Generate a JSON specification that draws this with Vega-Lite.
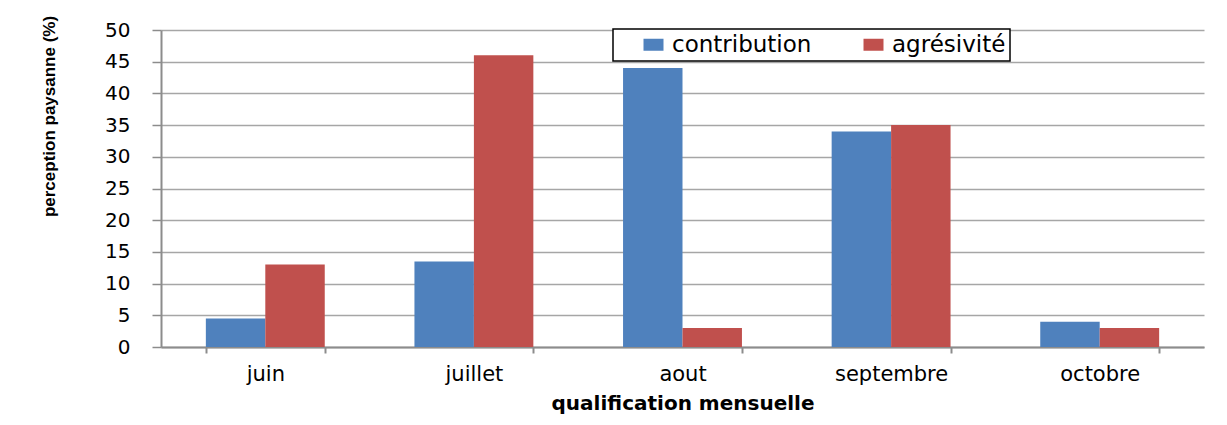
{
  "$schema": "https://vega.github.io/schema/vega-lite/v6.json",
  "width": 1043,
  "height": 317,
  "autosize": "none",
  "padding": {"left": 161, "top": 30, "right": 23, "bottom": 78},
  "background": "white",
  "config": {
    "view": {"stroke": null},
    "font": "DejaVu Sans",
    "legend": {"strokeWidth": 1.5}
  },
  "data": {
    "values": [
      {"mois": "juin", "serie": "contribution", "valeur": 4.5},
      {"mois": "juin", "serie": "agrésivité", "valeur": 13},
      {"mois": "juillet", "serie": "contribution", "valeur": 13.5},
      {"mois": "juillet", "serie": "agrésivité", "valeur": 46},
      {"mois": "aout", "serie": "contribution", "valeur": 44},
      {"mois": "aout", "serie": "agrésivité", "valeur": 3},
      {"mois": "septembre", "serie": "contribution", "valeur": 34},
      {"mois": "septembre", "serie": "agrésivité", "valeur": 35},
      {"mois": "octobre", "serie": "contribution", "valeur": 4},
      {"mois": "octobre", "serie": "agrésivité", "valeur": 3}
    ]
  },
  "mark": {"type": "bar"},
  "encoding": {
    "x": {
      "field": "mois",
      "type": "nominal",
      "sort": ["juin", "juillet", "aout", "septembre", "octobre"],
      "scale": {"paddingInner": 0.43, "paddingOuter": 0.215},
      "title": "qualification mensuelle",
      "axis": {
        "labelAngle": 0,
        "labelFontSize": 21,
        "labelColor": "#000000",
        "labelPadding": 10,
        "tickBand": "extent",
        "ticks": true,
        "tickSize": 6,
        "tickColor": "#8C8C8C",
        "tickWidth": 2,
        "domainColor": "#8C8C8C",
        "domainWidth": 2,
        "titleFont": "DejaVu Sans",
        "titleFontWeight": "bold",
        "titleFontSize": 20,
        "titleColor": "#000000",
        "titleBaseline": "middle",
        "titleY": 56
      }
    },
    "xOffset": {
      "field": "serie",
      "type": "nominal",
      "sort": ["contribution", "agrésivité"],
      "scale": {"paddingInner": 0, "paddingOuter": 0}
    },
    "y": {
      "field": "valeur",
      "type": "quantitative",
      "scale": {"domain": [0, 50], "nice": false},
      "title": "perception paysanne (%)",
      "axis": {
        "values": [0, 5, 10, 15, 20, 25, 30, 35, 40, 45, 50],
        "grid": true,
        "gridColor": "#A6A6A6",
        "gridWidth": 1.5,
        "domainColor": "#8C8C8C",
        "domainWidth": 2,
        "tickColor": "#8C8C8C",
        "tickWidth": 1.5,
        "tickSize": 9,
        "labelFontSize": 20,
        "labelColor": "#000000",
        "labelPadding": 22,
        "titleFont": "Liberation Sans",
        "titleFontWeight": "bold",
        "titleFontSize": 17,
        "titleColor": "#000000",
        "titleAngle": -90,
        "titleAlign": "center",
        "titleBaseline": "middle",
        "titleX": -112,
        "titleY": 86
      }
    },
    "color": {
      "field": "serie",
      "type": "nominal",
      "scale": {
        "domain": ["contribution", "agrésivité"],
        "range": ["#4F81BD", "#C0504D"]
      },
      "legend": {
        "title": null,
        "orient": "none",
        "legendX": 452,
        "legendY": -1,
        "direction": "horizontal",
        "columns": 2,
        "gridAlign": "all",
        "columnPadding": 25,
        "padding": 4,
        "strokeColor": "#000000",
        "fillColor": "#FFFFFF",
        "symbolType": "M-1,-0.6H1V0.6H-1Z",
        "symbolSize": 400,
        "symbolStrokeWidth": 0,
        "symbolOffset": 25,
        "labelOffset": 7,
        "labelFontSize": 23,
        "labelColor": "#000000",
        "labelLimit": 400
      }
    }
  }
}
